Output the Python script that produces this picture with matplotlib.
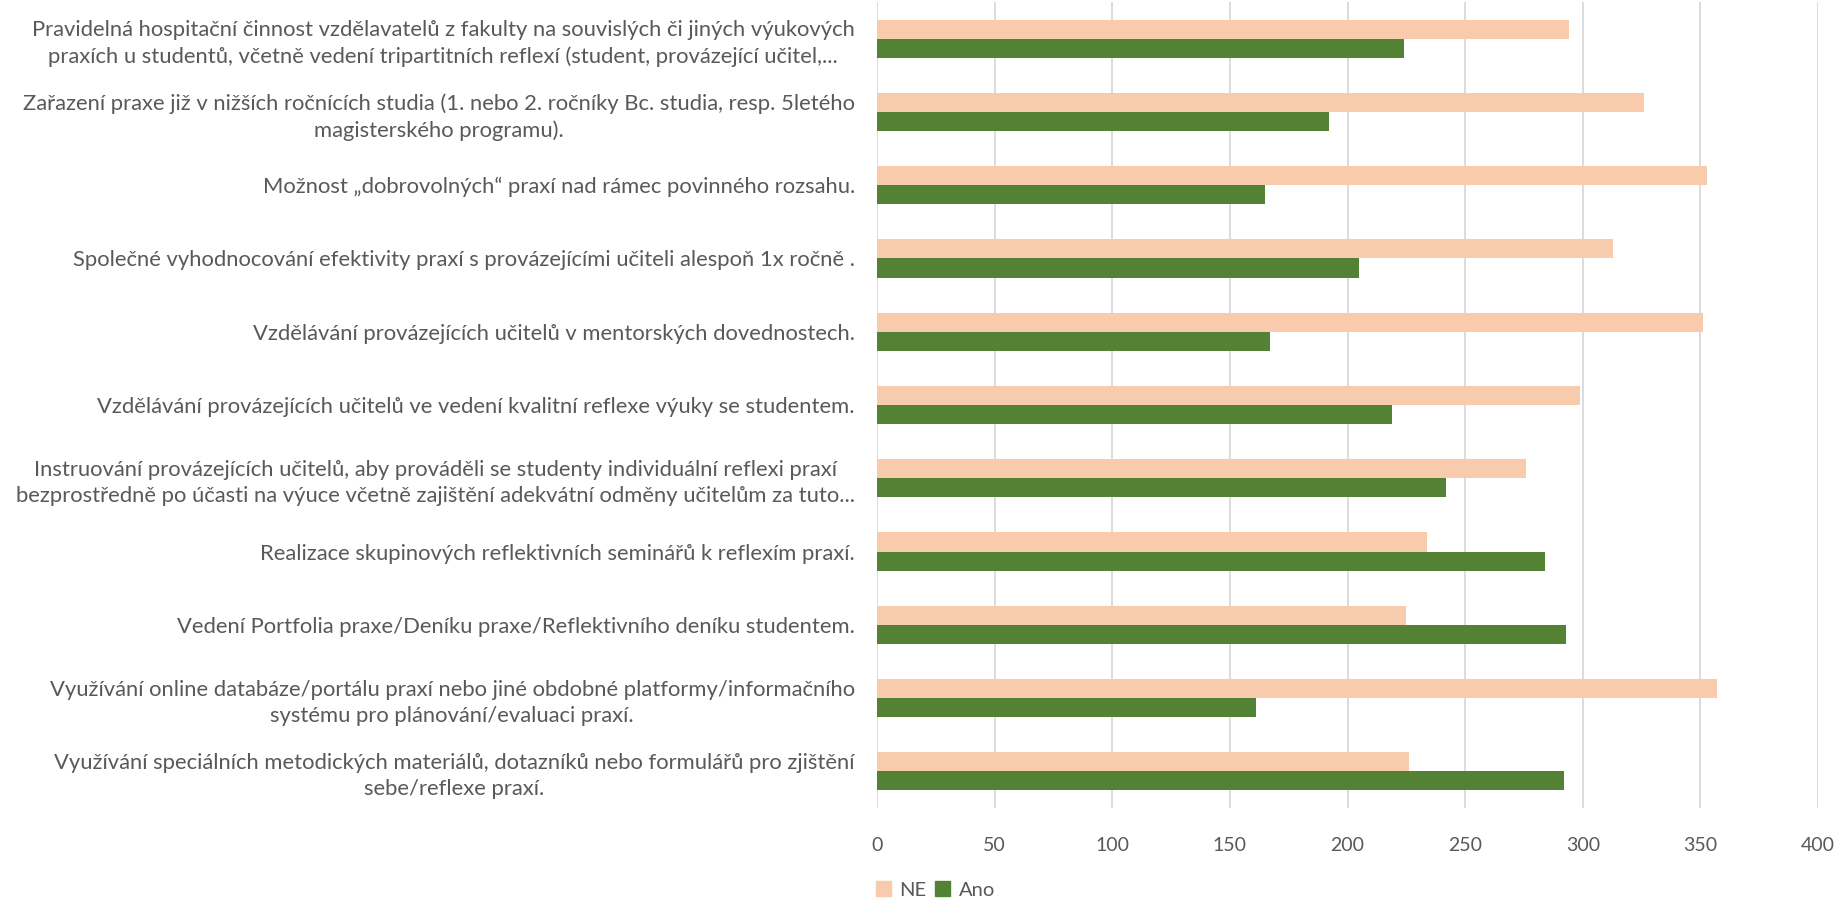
import matplotlib
matplotlib.use("Agg")
import matplotlib.pyplot as plt
from matplotlib.patches import Patch

plt.rcParams['font.family'] = ['Lato', 'DejaVu Sans']

categories = [
    "Pravidelná hospitační činnost vzdělavatelů z fakulty na souvislých či jiných výukových\npraxích u studentů, včetně vedení tripartitních reflexí (student, provázející učitel,...",
    "Zařazení praxe již v nižších ročnících studia (1. nebo 2. ročníky Bc. studia, resp. 5letého\nmagisterského programu).",
    "Možnost „dobrovolných“ praxí nad rámec povinného rozsahu.",
    "Společné vyhodnocování efektivity praxí s provázejícími učiteli alespoň 1x ročně .",
    "Vzdělávání provázejících učitelů v mentorských dovednostech.",
    "Vzdělávání provázejících učitelů ve vedení kvalitní reflexe výuky se studentem.",
    "Instruování provázejících učitelů, aby prováděli se studenty individuální reflexi praxí\nbezprostředně po účasti na výuce včetně zajištění adekvátní odměny učitelům za tuto...",
    "Realizace skupinových reflektivních seminářů k reflexím praxí.",
    "Vedení Portfolia praxe/Deníku praxe/Reflektivního deníku studentem.",
    "Využívání online databáze/portálu praxí nebo jiné obdobné platformy/informačního\nsystému pro plánování/evaluaci praxí.",
    "Využívání speciálních metodických materiálů, dotazníků nebo formulářů pro zjištění\nsebe/reflexe praxí.",
]
ne_values = [294, 326, 353, 313, 351, 299, 276, 234, 225, 357, 226]
ano_values = [224, 192, 165, 205, 167, 219, 242, 284, 293, 161, 292]
series_names = ["NE", "Ano"]
x_ticks = [0, 50, 100, 150, 200, 250, 300, 350, 400]

c_ne = "#F8CBAD"
c_ano = "#548235"
txt = "#595959"

fig = plt.figure(figsize=(18.41, 9.01), dpi=100)
ax = fig.add_axes([877/1841, 1 - 808/901, (1818-877)/1841, 806/901])

pos = list(range(len(categories)))
h = 0.26
ax.barh([p - h/2 for p in pos], ne_values, height=h, color=c_ne, zorder=3)
ax.barh([p + h/2 for p in pos], ano_values, height=h, color=c_ano, zorder=3)

ax.set_ylim(len(categories) - 0.5, -0.5)
ax.set_xlim(0, 400)
ax.set_xticks(x_ticks)
ax.set_xticklabels([str(v) for v in x_ticks], fontsize=14, color=txt)
ax.set_yticks(pos)
ax.set_yticklabels(categories, fontsize=15.8, color=txt, multialignment='center', linespacing=1.38)
ax.tick_params(axis='both', length=0)
ax.tick_params(axis='y', pad=16)
ax.tick_params(axis='x', pad=21)
ax.grid(axis='x', color="#D9D9D9", linewidth=1.3, zorder=0)
for s in ax.spines.values():
    s.set_visible(False)

handles = [Patch(color=c_ne), Patch(color=c_ano)]
fig.legend(handles, series_names, loc='center left', bbox_to_anchor=(876/1841, 1 - 890/901),
           ncol=2, frameon=False, fontsize=14.5, labelcolor=txt, handlelength=0.75, handleheight=0.75,
           handletextpad=0.4, columnspacing=0.45, borderaxespad=0, borderpad=0)

fig.savefig("out.png", dpi=100)
